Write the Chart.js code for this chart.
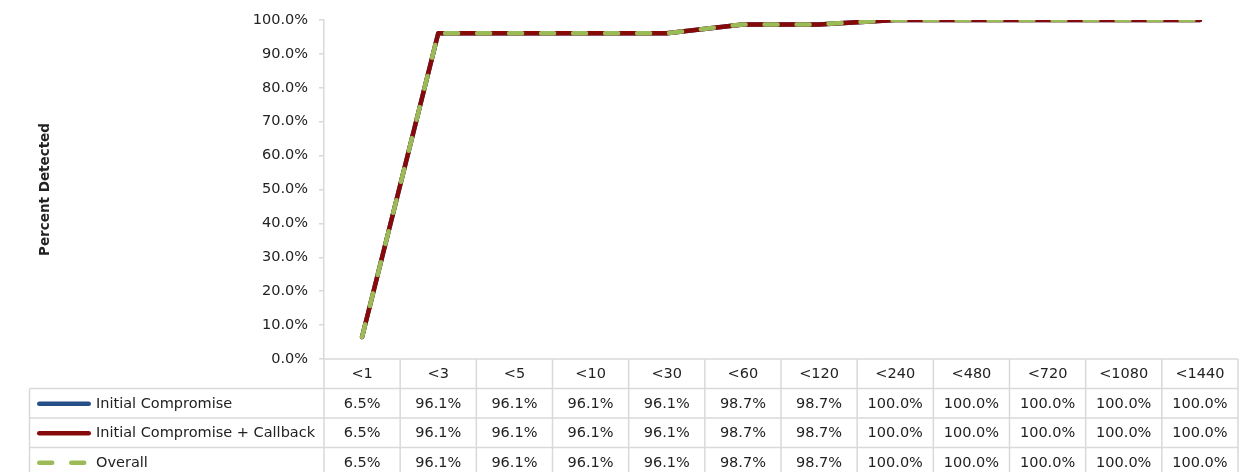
<!DOCTYPE html>
<html>
<head>
<meta charset="utf-8">
<script src="https://cdn.jsdelivr.net/npm/chart.js@4.4.1/dist/chart.umd.min.js"></script>
<style>
  html, body { margin: 0; padding: 0; background: #ffffff; }
  #wrap { width: 1241px; height: 472px; position: relative; }
</style>
</head>
<body>
<div id="wrap"><canvas id="chart" width="1241" height="472"></canvas></div>
<script>
// Detection-time buckets (minutes) and the cumulative share detected in each.
const categories = ['<1', '<3', '<5', '<10', '<30', '<60', '<120', '<240', '<480', '<720', '<1080', '<1440'];
const initialCompromise = [6.5, 96.1, 96.1, 96.1, 96.1, 98.7, 98.7, 100.0, 100.0, 100.0, 100.0, 100.0];
const initialCompromiseCallback = [6.5, 96.1, 96.1, 96.1, 96.1, 98.7, 98.7, 100.0, 100.0, 100.0, 100.0, 100.0];
const overall = [6.5, 96.1, 96.1, 96.1, 96.1, 98.7, 98.7, 100.0, 100.0, 100.0, 100.0, 100.0];
const yTickValues = [0, 10, 20, 30, 40, 50, 60, 70, 80, 90, 100];

const FONT = "'DejaVu Sans', sans-serif";
const TEXT = '#222222';
const RULE = '#d9d9d9';

Chart.defaults.font.family = FONT;
Chart.defaults.color = TEXT;

const fmt = v => v.toFixed(1) + '%';

// Data table drawn underneath the plot, one column per category.
const dataTable = {
  id: 'dataTable',
  afterDraw(chart) {
    const { ctx, chartArea: a, scales: { x } } = chart;
    const n = categories.length;
    const colW = (a.right - a.left) / n;
    const headTop = a.bottom;
    const headH = 29.5;
    const rowH = 29.5;
    const keyLeft = 29.5;
    const bottom = chart.height + 10;
    const sets = chart.data.datasets;

    ctx.save();
    ctx.strokeStyle = RULE;
    ctx.lineWidth = 1.5;
    ctx.setLineDash([]);

    // horizontal rules
    ctx.beginPath();
    ctx.moveTo(a.left, headTop);
    ctx.lineTo(a.right, headTop);
    for (let r = 0; r < sets.length; r++) {
      const y = headTop + headH + r * rowH;
      ctx.moveTo(keyLeft, y);
      ctx.lineTo(a.right, y);
    }
    // vertical rules
    for (let i = 0; i <= n; i++) {
      const xx = a.left + i * colW;
      ctx.moveTo(xx, headTop);
      ctx.lineTo(xx, bottom);
    }
    ctx.moveTo(keyLeft, headTop + headH);
    ctx.lineTo(keyLeft, bottom);
    ctx.stroke();

    ctx.fillStyle = TEXT;
    ctx.font = '14.5px ' + FONT;
    ctx.textAlign = 'center';
    ctx.textBaseline = 'middle';

    // header: category labels
    categories.forEach((c, i) => {
      ctx.fillText(c, x.getPixelForValue(i), headTop + headH / 2 + 0.5);
    });

    // one row per series: key, name, values
    sets.forEach((ds, r) => {
      const yc = headTop + headH + r * rowH + rowH / 2 + 0.5;
      ctx.save();
      ctx.strokeStyle = ds.borderColor;
      ctx.lineWidth = 4.5;
      ctx.lineCap = 'round';
      ctx.setLineDash(ds.borderDash || []);
      ctx.beginPath();
      ctx.moveTo(39.25, yc);
      ctx.lineTo(88.75, yc);
      ctx.stroke();
      ctx.restore();

      ctx.textAlign = 'left';
      ctx.fillText(ds.label, 96, yc);
      ctx.textAlign = 'center';
      ds.data.forEach((v, i) => {
        ctx.fillText(fmt(v), x.getPixelForValue(i), yc);
      });
    });
    ctx.restore();
  }
};

const seriesStyle = (color, dash, order) => ({
  borderColor: color,
  backgroundColor: color,
  borderWidth: 4.5,
  borderDash: dash,
  borderCapStyle: 'round',
  borderJoinStyle: 'round',
  pointRadius: 0,
  pointHoverRadius: 0,
  fill: false,
  tension: 0,
  order: order
});

new Chart(document.getElementById('chart'), {
  type: 'line',
  data: {
    labels: categories,
    datasets: [
      Object.assign({ label: 'Initial Compromise', data: initialCompromise }, seriesStyle('#264f8a', [], 3)),
      Object.assign({ label: 'Initial Compromise + Callback', data: initialCompromiseCallback }, seriesStyle('#860a0a', [], 2)),
      Object.assign({ label: 'Overall', data: overall }, seriesStyle('#9bbb59', [13, 19], 1))
    ]
  },
  options: {
    responsive: false,
    animation: false,
    events: [],
    layout: { padding: { left: 0, right: 3, top: 20, bottom: 113 } },
    plugins: {
      legend: { display: false },
      tooltip: { enabled: false },
      title: { display: false }
    },
    scales: {
      x: {
        type: 'category',
        display: false,
        offset: true
      },
      y: {
        min: 0,
        max: 100,
        afterBuildTicks(scale) {
          scale.ticks = yTickValues.map(v => ({ value: v }));
        },
        afterFit(scale) { scale.width = 324; },
        ticks: {
          padding: 11,
          color: TEXT,
          font: { size: 14.5, family: FONT },
          callback: v => fmt(v)
        },
        grid: {
          drawOnChartArea: false,
          drawTicks: true,
          tickLength: 5,
          color: RULE,
          lineWidth: 1.5
        },
        border: { display: true, color: RULE, width: 1.5 },
        title: {
          display: true,
          text: 'Percent Detected',
          color: TEXT,
          font: { size: 13.5, weight: 'bold', family: FONT },
          padding: { top: 37, bottom: 0 }
        }
      }
    }
  },
  plugins: [dataTable]
});
</script>
</body>
</html>
